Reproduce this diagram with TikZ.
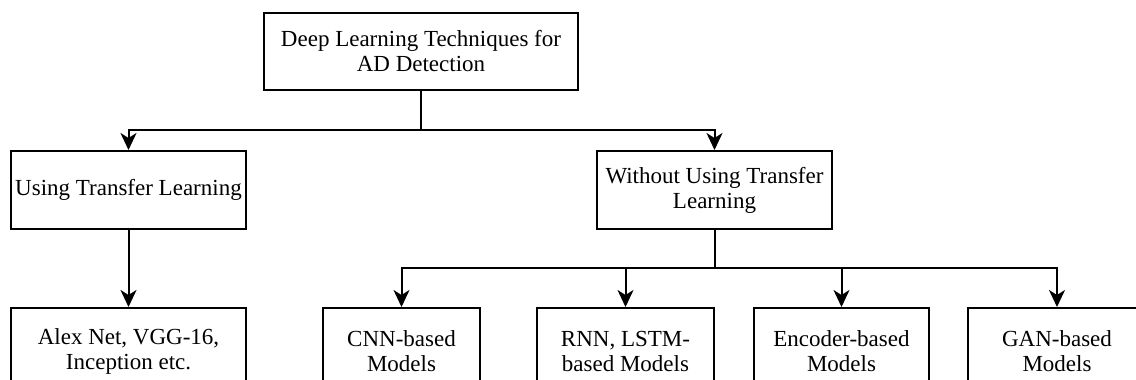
\documentclass[tikz,border=0pt]{standalone}
\usepackage{fontspec}
\setmainfont{Liberation Serif}
\usetikzlibrary{arrows.meta}
\begin{document}
\begin{tikzpicture}[x=1pt, y=-1pt,
    box/.style={draw, line width=2pt, align=center, inner sep=0pt,
      font=\fontsize{23}{25}\selectfont},
    wire/.style={line width=2pt},
    arrow/.style={wire, -{Stealth[length=17pt, width=16pt, inset=5pt]}}]
  \path[use as bounding box, clip] (0,0) rectangle (1136,380);

  \node[box, minimum width=314pt, minimum height=77pt] (dl) at (421,51.5) {Deep Learning Techniques for\\AD Detection};
  \node[box, minimum width=235pt, minimum height=78pt] (tl) at (128.5,190) {Using Transfer Learning};
  \node[box, minimum width=235pt, minimum height=78pt] (ntl) at (714.5,190) {Without Using Transfer\\Learning};

  \node[box, anchor=north, minimum width=235pt, minimum height=86pt] (alex) at (128.5,307) {Alex Net, VGG-16,\\Inception etc.};
  \node[box, anchor=north, minimum width=157pt, minimum height=86pt] (cnn) at (401.5,307) {CNN-based\\Models};
  \node[box, anchor=north, minimum width=177pt, minimum height=86pt] (rnn) at (625.5,307) {RNN, LSTM-\\based Models};
  \node[box, anchor=north, minimum width=175pt, minimum height=86pt] (enc) at (841.5,307) {Encoder-based\\Models};
  \node[box, anchor=north, minimum width=178pt, minimum height=86pt] (gan) at (1057,307) {GAN-based\\Models};

  \coordinate (j1) at (421,130);
  \coordinate (j2) at (714.5,268);

  \draw[wire] (dl) -- (j1);
  \draw[arrow] (j1) -| (tl.north);
  \draw[arrow] (j1) -| (ntl.north);
  \draw[arrow] (tl) -- (alex);
  \draw[wire] (ntl) -- (j2);
  \foreach \m in {cnn, rnn, enc, gan}
    \draw[arrow] (j2) -| (\m.north);
\end{tikzpicture}
\end{document}
